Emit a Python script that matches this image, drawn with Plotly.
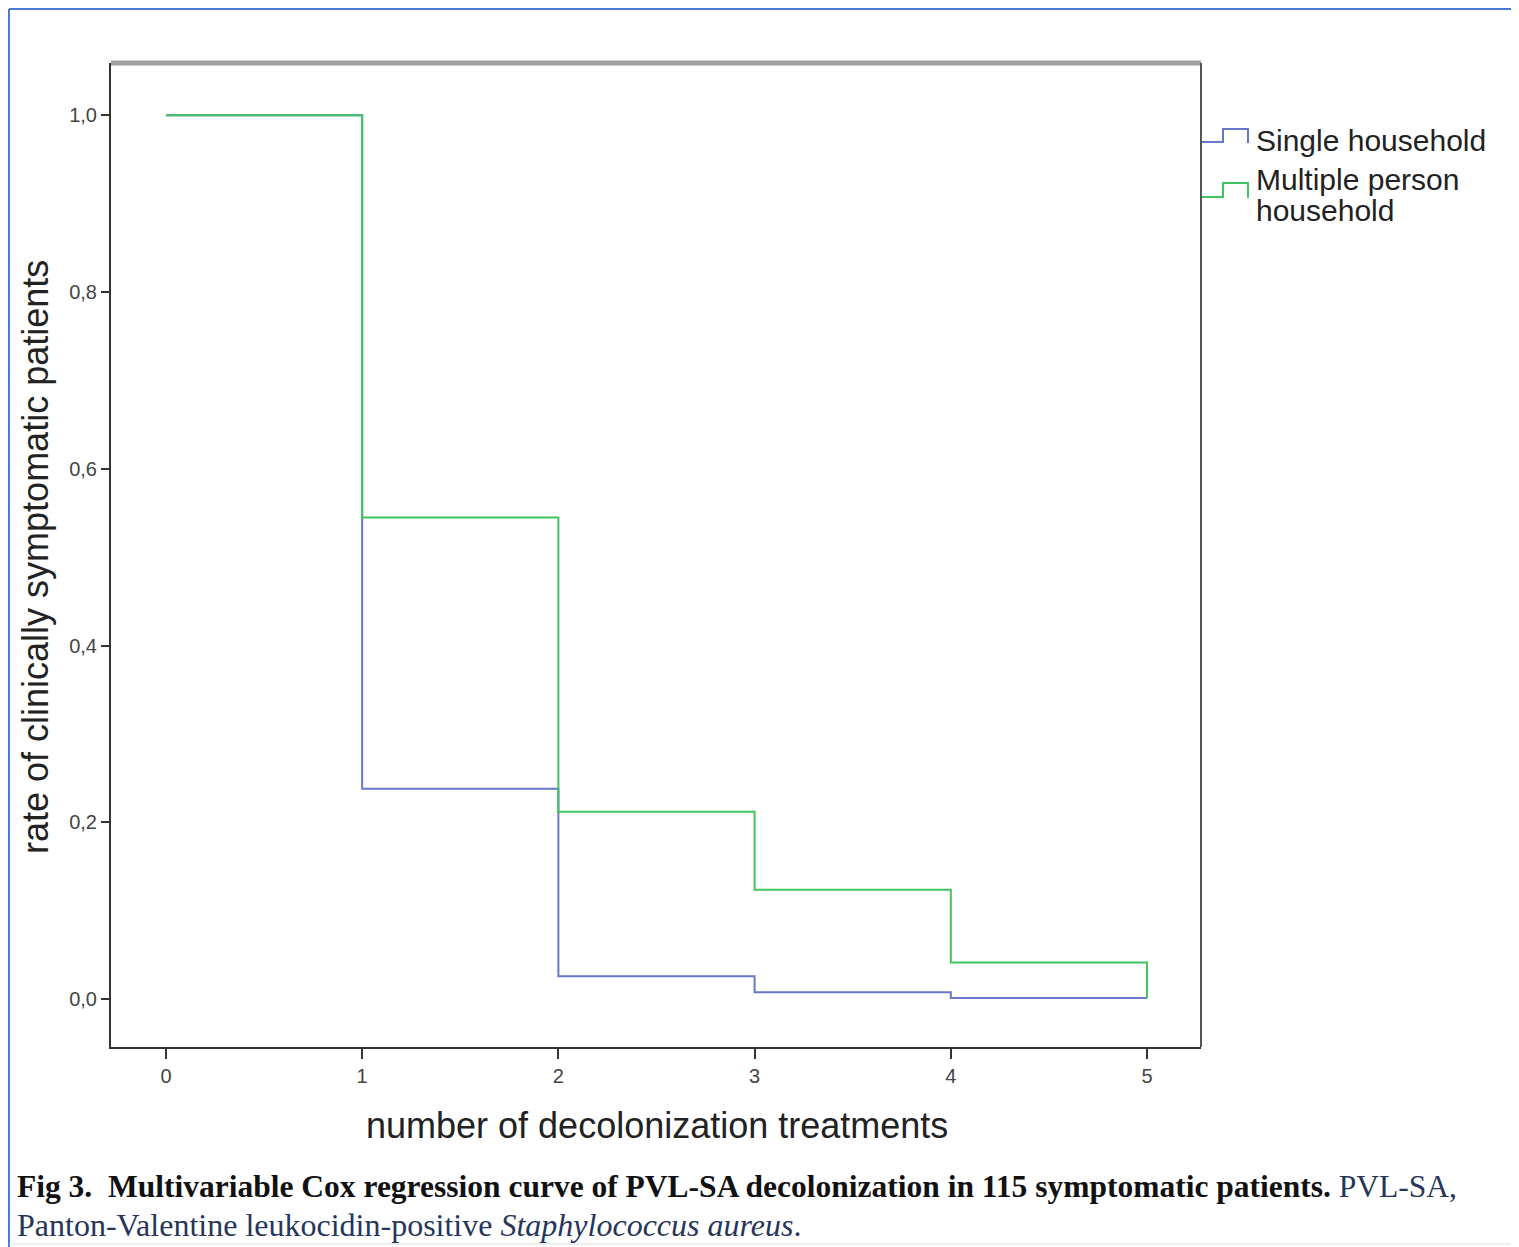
import plotly.graph_objects as go

# ---- data ----
treatments = [0, 1, 2, 3, 4, 5]
single_household = [1.0, 0.238, 0.026, 0.008, 0.0015, 0.0015]
multiple_household = [1.0, 0.545, 0.212, 0.124, 0.0415, 0.001]
legend_lines = ["Single household", "Multiple person", "household"]
y_ticks = [0.0, 0.2, 0.4, 0.6, 0.8, 1.0]
x_ticks = [0, 1, 2, 3, 4, 5]

OFF = 8  # page body margin in the browser
W, H = 1519 - OFF, 1247 - OFF
L, R, T, B = 111 - OFF, 1201 - OFF, 63 - OFF, 1047 - OFF  # plot area in figure pixels

BLUE = "#6677cc"
GREEN = "#3fc460"


def px(x):
    # reference-image pixel -> paper coordinate
    return (x - OFF - L) / (R - L)


def py(y):
    return (B - (y - OFF)) / (B - T)


fig = go.Figure()
fig.add_trace(go.Scatter(x=treatments, y=single_household, mode="lines",
                         line=dict(shape="hv", color=BLUE, width=2),
                         name="Single household", showlegend=False))
fig.add_trace(go.Scatter(x=treatments, y=multiple_household, mode="lines",
                         line=dict(shape="hv", color=GREEN, width=2),
                         name="Multiple person household", showlegend=False))

shapes = []
shapes.append(dict(type="line", xref="paper", yref="paper", x0=0, x1=1, y0=1, y1=1,
                   line=dict(color="#a0a0a0", width=5)))
shapes.append(dict(type="line", xref="paper", yref="paper", x0=1, x1=1, y0=0, y1=1,
                   line=dict(color="#555555", width=2)))


def step_path(x0, xm, x1, ylow, yhigh, yend):
    return (f"M {px(x0)},{py(ylow)} L {px(xm)},{py(ylow)} L {px(xm)},{py(yhigh)} "
            f"L {px(x1)},{py(yhigh)} L {px(x1)},{py(yend)}")


shapes.append(dict(type="path", xref="paper", yref="paper",
                   path=step_path(1202, 1223, 1248, 142, 129, 143),
                   line=dict(color=BLUE, width=2)))
shapes.append(dict(type="path", xref="paper", yref="paper",
                   path=step_path(1202, 1223, 1248, 197, 183, 198),
                   line=dict(color=GREEN, width=2)))
# page border (as close to the page edge as the figure allows)
shapes.append(dict(type="line", xref="paper", yref="paper", x0=px(9), x1=px(1519), y0=py(9), y1=py(9),
                   line=dict(color="#4a78d6", width=2)))
shapes.append(dict(type="line", xref="paper", yref="paper", x0=px(9), x1=px(9), y0=py(9), y1=py(1247),
                   line=dict(color="#4a78d6", width=2)))
shapes.append(dict(type="line", xref="paper", yref="paper", x0=px(9), x1=px(1519), y0=py(1244), y1=py(1244),
                   line=dict(color="#dddddd", width=1)))

SANS = "Liberation Sans, Arial"
SERIF = "Liberation Serif, Times New Roman"
annotations = []
for text, yc in zip(legend_lines, [140, 179, 210]):
    annotations.append(dict(xref="paper", yref="paper", x=px(1254), y=py(yc), xanchor="left", yanchor="middle",
                            text=text, showarrow=False,
                            font=dict(family=SANS, size=30, color="#222222")))
annotations.append(dict(xref="paper", yref="paper", x=px(657), y=py(1125), xanchor="center", yanchor="middle",
                        text="number of decolonization treatments", showarrow=False,
                        font=dict(family=SANS, size=36, color="#222222")))
annotations.append(dict(xref="paper", yref="paper", x=px(35), y=py(557), xanchor="center", yanchor="middle",
                        text="rate of clinically symptomatic patients", showarrow=False, textangle=-90,
                        font=dict(family=SANS, size=36, color="#222222")))
annotations.append(dict(xref="paper", yref="paper", x=px(15), y=py(1186), xanchor="left", yanchor="middle",
                        text="<b>Fig 3.  Multivariable Cox regression curve of PVL-SA decolonization in 115 symptomatic patients.</b>"
                             " <span style='color:#27355a'>PVL-SA,</span>",
                        showarrow=False,
                        font=dict(family=SERIF, size=31.5, color="#111111")))
annotations.append(dict(xref="paper", yref="paper", x=px(15), y=py(1225), xanchor="left", yanchor="middle",
                        text="Panton-Valentine leukocidin-positive <i>Staphylococcus aureus</i>.",
                        showarrow=False,
                        font=dict(family=SERIF, size=32, color="#27355a")))

fig.update_layout(
    width=W, height=H,
    margin=dict(l=L, r=W - R, t=T, b=H - B, pad=0),
    paper_bgcolor="white", plot_bgcolor="white",
    separators=",.",
    shapes=shapes, annotations=annotations,
    showlegend=False,
)
fig.update_xaxes(range=[-0.28, 5.275], tickvals=x_ticks, ticks="outside", ticklen=10, tickwidth=2,
                 tickcolor="#333333", showline=True, linecolor="#333333", linewidth=2,
                 showgrid=False, zeroline=False,
                 tickfont=dict(family=SANS, size=20, color="#444444"))
fig.update_yaxes(range=[-0.054, 1.059], tickvals=y_ticks, tickformat=".1f", ticks="outside", ticklen=8,
                 tickwidth=2, tickcolor="#333333", showline=True, linecolor="#333333", linewidth=2,
                 showgrid=False, zeroline=False,
                 tickfont=dict(family=SANS, size=20, color="#444444"))

fig.write_html("out.html")
